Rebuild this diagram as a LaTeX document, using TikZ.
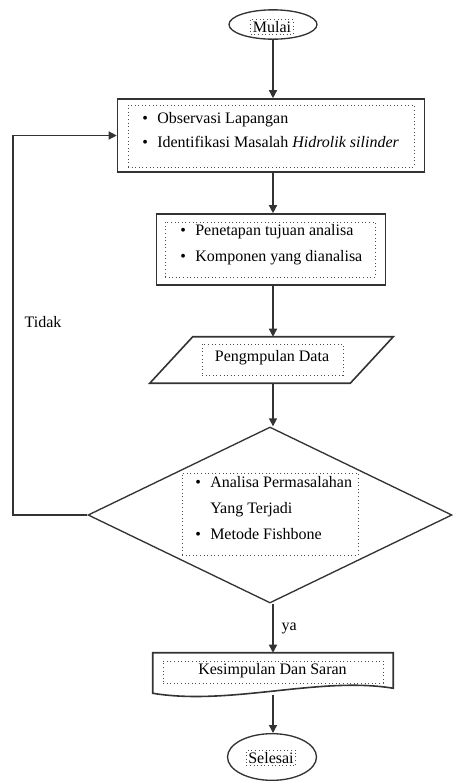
\documentclass[tikz,border=0pt]{standalone}
\usepackage{xcolor}
\usepackage{fontspec}
\setmainfont{Liberation Serif}
\usepackage{tikz}
\usetikzlibrary{arrows.meta, positioning, shapes.geometric, calc}
\definecolor{garisgray}{gray}{0.2}
\definecolor{titikgray}{gray}{0.3}

\tikzset{
    garis/.style={draw=garisgray, line width=1pt},
    panah/.style={garis, -{Triangle[length=6pt, width=6pt]}},
    kotak/.style={draw=garisgray, line width=1.2pt, rectangle, inner sep=0pt},
    titik/.style={draw=titikgray, dotted, line width=0.7pt, inner sep=0pt},
    teks/.style={font=\fontsize{12}{18}\selectfont, inner sep=0pt},
    daftar/.style={teks, align=left, anchor=west}
}
\newcommand{\butir}[1]{\makebox[11.25pt][l]{\textbullet}#1}

\begin{document}
\begin{tikzpicture}[x=0.75pt, y=-0.75pt]
    \useasboundingbox (0,0) rectangle (453,783);
    % Mulai
    \node[ellipse, garis, minimum width=66pt, minimum height=22pt, inner sep=0pt] (mulai) at (273,24.5) {};
    \node[titik, teks, inner sep=1.5pt] (mulaitxt) at (272,27) {Mulai};
    % Observasi dan identifikasi
    \node[kotak, minimum width=230.25pt, minimum height=54.75pt] (obs) at (271,135.5) {};
    \node[titik, minimum width=214.5pt, minimum height=46.5pt] (obsin) at (271,136) {};
    \node[daftar] (obstxt) at (142,130) {\butir{Observasi Lapangan}\\
        \butir{Identifikasi Masalah \textit{Hidrolik silinder}}};
    % Tujuan analisa
    \node[kotak, minimum width=171.75pt, minimum height=53.25pt] (tujuan) at (271,249.5) {};
    \node[titik, minimum width=157.5pt, minimum height=41.25pt] (tujuanin) at (270,249.5) {};
    \node[daftar, font=\fontsize{12}{19.5}\selectfont] (tujuantxt) at (180,245) {\butir{Penetapan tujuan analisa}\\
        \butir{Komponen yang dianalisa}};
    % Pengumpulan data
    \node[minimum width=150pt, minimum height=34.5pt, inner sep=0pt] (data) at (271.5,360) {};
    \draw[garis, line width=1.2pt] ($(data.north west)+(21.5,0)$) -- ($(data.north east)+(21.5,0)$)
        -- ($(data.south east)+(-21.5,0)$) -- ($(data.south west)+(-21.5,0)$) -- cycle;
    \node[titik, minimum width=105.75pt, minimum height=23.25pt] (datain) at (272.5,359.5) {};
    \node[teks] (datatxt) at (272,358) {Pengmpulan Data};
    % Analisa
    \node[diamond, garis, minimum width=273pt, minimum height=132pt, inner sep=0pt] (analisa) at (270,515) {};
    \node[titik, minimum width=132pt, minimum height=61.5pt] (analisain) at (270,514) {};
    \node[daftar, font=\fontsize{12}{19.5}\selectfont] (analisatxt) at (195,508.5) {\butir{Analisa Permasalahan}\\
        \hspace*{11.25pt}Yang Terjadi\\
        \butir{Metode Fishbone}};
    % Kesimpulan
    \node[minimum width=180pt, minimum height=31.5pt, inner sep=0pt] (kes) at (273,674) {};
    \draw[garis, line width=1.2pt] (kes.north west) -- (kes.north east) -- ($(kes.south east)+(0,-7)$)
        .. controls (320,676) and (230,706) .. ($(kes.south west)+(0,-2)$) -- cycle;
    \node[titik, minimum width=165pt, minimum height=16.5pt] (kesin) at (273,672) {};
    \node[teks] (kestxt) at (272.5,671) {Kesimpulan Dan Saran};
    % Selesai
    \node[ellipse, garis, minimum width=66.75pt, minimum height=35pt, inner sep=0pt] (selesai) at (272,757) {};
    \node[titik, teks, inner sep=1.5pt] (selesaitxt) at (271,758) {Selesai};
    % Alur
    \draw[panah] (mulai.south) -- (mulai.south |- obs.north);
    \draw[panah] (obs.south -| mulai.south) -- (mulai.south |- tujuan.north);
    \draw[panah] (tujuan.south -| mulai.south) -- (mulai.south |- data.north);
    \draw[panah] (data.south -| mulai.south) -- (mulai.south |- analisa.north);
    \draw[panah] (analisa.south -| mulai.south) -- (mulai.south |- kes.north) node[teks, midway, right=6pt] (ya) {ya};
    \draw[panah] (kes.south -| mulai.south) -- (mulai.south |- selesai.north);
    % Kembali jika tidak
    \coordinate (kiri) at (13,515);
    \draw[panah] (analisa.west) -- (kiri) |- (obs.west);
    \node[teks] (tidak) at (43,322) {Tidak};
\end{tikzpicture}
\end{document}
